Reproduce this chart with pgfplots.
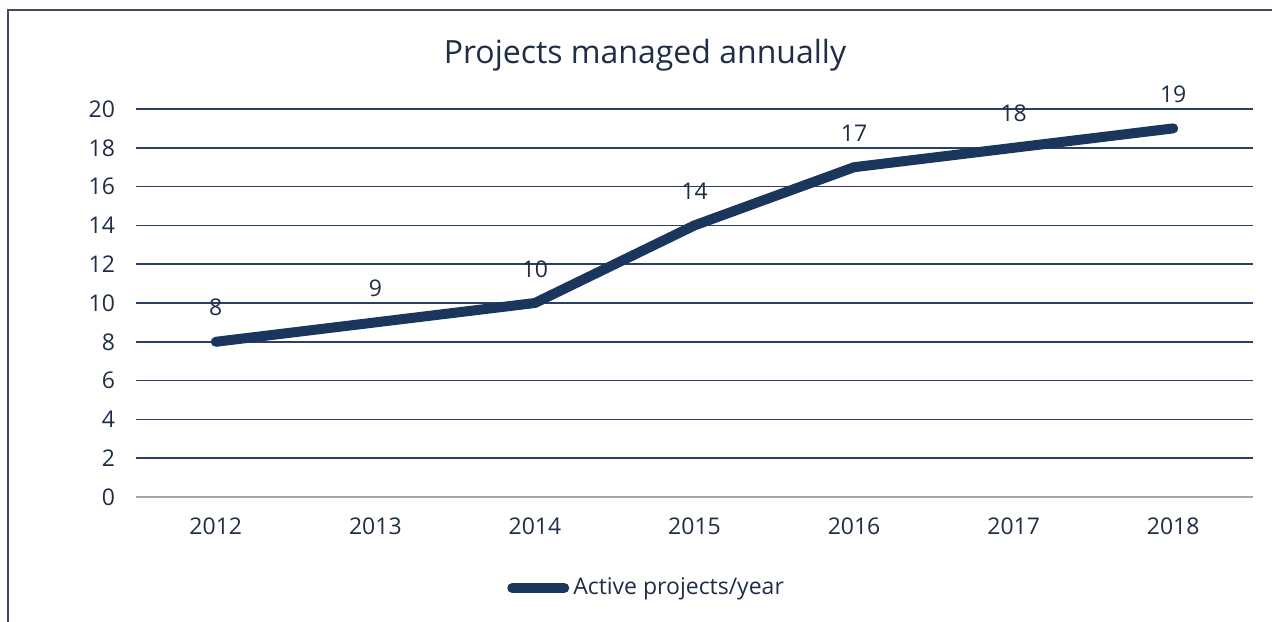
\documentclass[border=0pt]{standalone}
\usepackage{pgfplots}
\pgfplotsset{compat=1.18}
\usepackage{fontspec}
\setmainfont{Open Sans}
\definecolor{txt}{HTML}{1F2D47}
\definecolor{navy}{HTML}{1B365D}
\definecolor{gridc}{HTML}{2A4068}
\definecolor{zeroc}{HTML}{A6A6A6}
\definecolor{framec}{HTML}{3F4A5C}
\begin{document}
\begin{tikzpicture}
\useasboundingbox (0,0) rectangle (636pt,310.5pt);
\draw[framec, line width=0.8pt] (4pt,-1pt) -- (4pt,305.5pt) -- (637pt,305.5pt);
\node[text=txt, font=\fontsize{16}{18}\selectfont] at (322.5pt,283pt) {Projects managed annually};
\begin{axis}[
  at={(68pt,62pt)}, anchor=south west,
  scale only axis, width=558.5pt, height=194pt,
  xmin=-0.5, xmax=6.5, ymin=0, ymax=20,
  xtick={0,...,6}, xticklabels={2012,2013,2014,2015,2016,2017,2018},
  ytick={0,2,...,20},
  axis line style={draw=none},
  tick style={draw=none},
  ymajorgrids, grid style={gridc, line width=0.75pt},
  extra y ticks={0}, extra y tick style={grid style={zeroc, line width=0.75pt}, yticklabel style={opacity=0}},
  /pgf/number format/assume math mode=true,
  ticklabel style={text=txt, font=\fontsize{11.5}{13}\selectfont},
  yticklabel style={xshift=-7pt},
  xticklabel style={yshift=-7pt},
  clip=false,
  legend style={at={(0.458,-0.2345)}, anchor=center, draw=none, fill=none,
    font=\fontsize{11.5}{13}\selectfont, text=txt, inner sep=0pt,
    /tikz/every even column/.append style={column sep=0pt}},
  legend image code/.code={\draw[navy, line width=5pt, line cap=round] (0pt,0pt) -- (26pt,0pt);},
  nodes near coords, every node near coord/.append style={text=txt, font=\fontsize{11.5}{13}\selectfont, anchor=south, yshift=7pt},
]
\addplot[navy, line width=5pt, line cap=round, line join=round, mark=none] coordinates {
(0,8) (1,9) (2,10) (3,14) (4,17) (5,18) (6,19)};
\addlegendentry{Active projects/year}
\end{axis}
\end{tikzpicture}
\end{document}
